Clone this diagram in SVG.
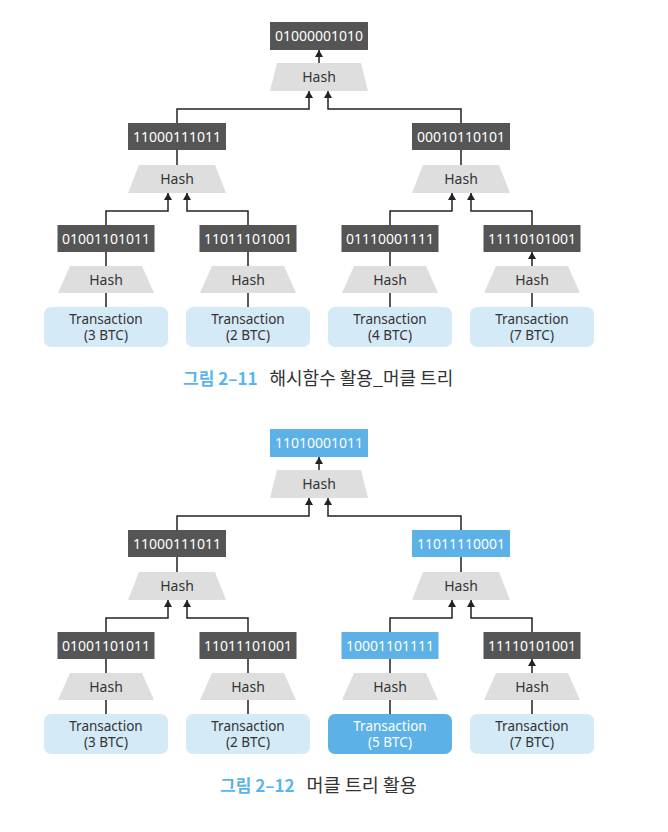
<svg xmlns="http://www.w3.org/2000/svg" width="668" height="832" viewBox="0 0 668 832">
<defs>
<marker id="ah" viewBox="0 0 7 8" refX="7" refY="4" markerWidth="7" markerHeight="8" markerUnits="userSpaceOnUse" orient="auto">
<path d="M0,0 L7,4 L0,8 z" fill="#222"/>
</marker>
</defs>
<style>
.dk{fill:#555555}
.bl{fill:#5cb1e6}
.hs{fill:#dedede}
.tx{fill:#d5eaf7}
.tb{font-family:"Noto Sans","Noto Sans CJK KR",sans-serif;font-size:14px;text-anchor:middle}
.tt{font-family:"Noto Sans","Noto Sans CJK KR",sans-serif;font-size:13.5px;text-anchor:middle}
.w{fill:#ffffff}
.d{fill:#333333}
.ln{fill:none;stroke:#222;stroke-width:1.5}
.ar{fill:none;stroke:#222;stroke-width:1.5;marker-end:url(#ah)}
.cap{font-family:"Noto Sans CJK KR","Noto Sans",sans-serif;font-size:17px}
</style>
<rect width="668" height="832" fill="#ffffff"/>

<!-- ============ Figure 2-11 ============ -->
<g id="connectors1">
<path class="ln" d="M106 307V293M248 307V293M390 307V293M532 307V293"/>
<path class="ar" d="M106 266V252M248 266V252M390 266V252M532 266V252"/>
<path class="ar" d="M106 225V211H168V193"/>
<path class="ar" d="M248 225V211H187V193"/>
<path class="ar" d="M390 225V211H452V193"/>
<path class="ar" d="M532 225V211H471V193"/>
<path class="ar" d="M177 165V150M461 165V150M319 63V50"/>
<path class="ar" d="M177 123V109H309V91"/>
<path class="ar" d="M461 123V109H328V91"/>
</g>

<g id="t1"><rect class="tx" x="44" y="307" width="124" height="40" rx="7"/><text class="tt d" x="106" y="323.5">Transaction</text><text class="tt d" x="106" y="340">(3 BTC)</text></g>
<g id="t2"><rect class="tx" x="186" y="307" width="124" height="40" rx="7"/><text class="tt d" x="248" y="323.5">Transaction</text><text class="tt d" x="248" y="340">(2 BTC)</text></g>
<g id="t3"><rect class="tx" x="328" y="307" width="124" height="40" rx="7"/><text class="tt d" x="390" y="323.5">Transaction</text><text class="tt d" x="390" y="340">(4 BTC)</text></g>
<g id="t4"><rect class="tx" x="470" y="307" width="124" height="40" rx="7"/><text class="tt d" x="532" y="323.5">Transaction</text><text class="tt d" x="532" y="340">(7 BTC)</text></g>

<g id="hl1"><polygon class="hs" points="70,266 142,266 154,293 58,293"/><text class="tb d" x="106" y="285">Hash</text></g>
<g id="hl2"><polygon class="hs" points="212,266 284,266 296,293 200,293"/><text class="tb d" x="248" y="285">Hash</text></g>
<g id="hl3"><polygon class="hs" points="354,266 426,266 438,293 342,293"/><text class="tb d" x="390" y="285">Hash</text></g>
<g id="hl4"><polygon class="hs" points="496,266 568,266 580,293 484,293"/><text class="tb d" x="532" y="285">Hash</text></g>

<g id="l1"><rect class="dk" x="57.5" y="225" width="97" height="27"/><text class="tb w" x="106" y="243.5">01001101011</text></g>
<g id="l2"><rect class="dk" x="199.5" y="225" width="97" height="27"/><text class="tb w" x="248" y="243.5">11011101001</text></g>
<g id="l3"><rect class="dk" x="341.5" y="225" width="97" height="27"/><text class="tb w" x="390" y="243.5">01110001111</text></g>
<g id="l4"><rect class="dk" x="483.5" y="225" width="97" height="27"/><text class="tb w" x="532" y="243.5">11110101001</text></g>

<g id="hm1"><polygon class="hs" points="139,165 215,165 226,193 128,193"/><text class="tb d" x="177" y="184">Hash</text></g>
<g id="hm2"><polygon class="hs" points="423,165 499,165 510,193 412,193"/><text class="tb d" x="461" y="184">Hash</text></g>

<g id="m1"><rect class="dk" x="128" y="123" width="98" height="27"/><text class="tb w" x="177" y="141.5">11000111011</text></g>
<g id="m2"><rect class="dk" x="412" y="123" width="98" height="27"/><text class="tb w" x="461" y="141.5">00010110101</text></g>

<g id="hr"><polygon class="hs" points="277,63 361,63 368,91 270,91"/><text class="tb d" x="319" y="82">Hash</text></g>
<g id="r"><rect class="dk" x="270" y="22" width="98" height="28"/><text class="tb w" x="319" y="41">01000001010</text></g>

<g id="cap1"><text class="cap" x="183" y="385"><tspan fill="#5bb5ea" font-weight="bold">그림 2–11</tspan><tspan fill="#333333" dx="12" font-size="18px">해시함수 활용_머클 트리</tspan></text></g>

<!-- ============ Figure 2-12 ============ -->
<g transform="translate(0,407)">
<g id="connectors2">
<path class="ln" d="M106 307V293M248 307V293M390 307V293M532 307V293"/>
<path class="ar" d="M106 266V252M248 266V252M390 266V252M532 266V252"/>
<path class="ar" d="M106 225V211H168V193"/>
<path class="ar" d="M248 225V211H187V193"/>
<path class="ar" d="M390 225V211H452V193"/>
<path class="ar" d="M532 225V211H471V193"/>
<path class="ar" d="M177 165V150M461 165V150M319 63V50"/>
<path class="ar" d="M177 123V109H309V91"/>
<path class="ar" d="M461 123V109H328V91"/>
</g>

<g id="b_t1"><rect class="tx" x="44" y="307" width="124" height="40" rx="7"/><text class="tt d" x="106" y="323.5">Transaction</text><text class="tt d" x="106" y="340">(3 BTC)</text></g>
<g id="b_t2"><rect class="tx" x="186" y="307" width="124" height="40" rx="7"/><text class="tt d" x="248" y="323.5">Transaction</text><text class="tt d" x="248" y="340">(2 BTC)</text></g>
<g id="b_t3"><rect class="bl" x="328" y="307" width="124" height="40" rx="7"/><text class="tt w" x="390" y="323.5">Transaction</text><text class="tt w" x="390" y="340">(5 BTC)</text></g>
<g id="b_t4"><rect class="tx" x="470" y="307" width="124" height="40" rx="7"/><text class="tt d" x="532" y="323.5">Transaction</text><text class="tt d" x="532" y="340">(7 BTC)</text></g>

<g id="b_hl1"><polygon class="hs" points="70,266 142,266 154,293 58,293"/><text class="tb d" x="106" y="285">Hash</text></g>
<g id="b_hl2"><polygon class="hs" points="212,266 284,266 296,293 200,293"/><text class="tb d" x="248" y="285">Hash</text></g>
<g id="b_hl3"><polygon class="hs" points="354,266 426,266 438,293 342,293"/><text class="tb d" x="390" y="285">Hash</text></g>
<g id="b_hl4"><polygon class="hs" points="496,266 568,266 580,293 484,293"/><text class="tb d" x="532" y="285">Hash</text></g>

<g id="b_l1"><rect class="dk" x="57.5" y="225" width="97" height="27"/><text class="tb w" x="106" y="243.5">01001101011</text></g>
<g id="b_l2"><rect class="dk" x="199.5" y="225" width="97" height="27"/><text class="tb w" x="248" y="243.5">11011101001</text></g>
<g id="b_l3"><rect class="bl" x="341.5" y="225" width="97" height="27"/><text class="tb w" x="390" y="243.5">10001101111</text></g>
<g id="b_l4"><rect class="dk" x="483.5" y="225" width="97" height="27"/><text class="tb w" x="532" y="243.5">11110101001</text></g>

<g id="b_hm1"><polygon class="hs" points="139,165 215,165 226,193 128,193"/><text class="tb d" x="177" y="184">Hash</text></g>
<g id="b_hm2"><polygon class="hs" points="423,165 499,165 510,193 412,193"/><text class="tb d" x="461" y="184">Hash</text></g>

<g id="b_m1"><rect class="dk" x="128" y="123" width="98" height="27"/><text class="tb w" x="177" y="141.5">11000111011</text></g>
<g id="b_m2"><rect class="bl" x="412" y="123" width="98" height="27"/><text class="tb w" x="461" y="141.5">11011110001</text></g>

<g id="b_hr"><polygon class="hs" points="277,63 361,63 368,91 270,91"/><text class="tb d" x="319" y="82">Hash</text></g>
<g id="b_r"><rect class="bl" x="270" y="22" width="98" height="28"/><text class="tb w" x="319" y="41">11010001011</text></g>
</g>

<g id="cap2"><text class="cap" x="220" y="792"><tspan fill="#5bb5ea" font-weight="bold">그림 2–12</tspan><tspan fill="#333333" dx="12" font-size="18.5px">머클 트리 활용</tspan></text></g>
</svg>
